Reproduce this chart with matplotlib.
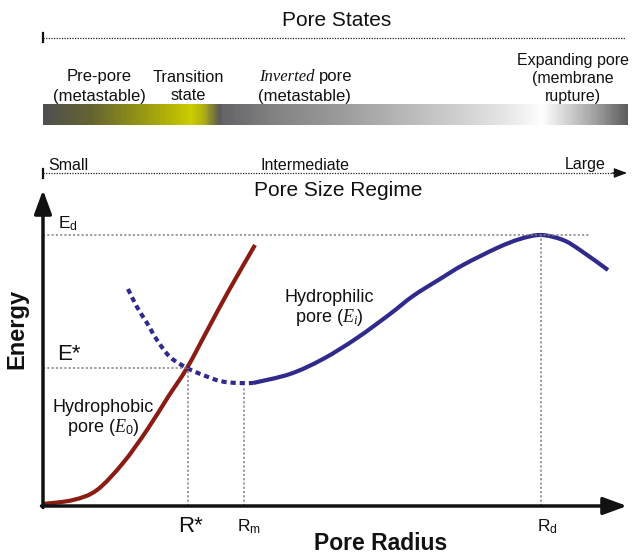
import matplotlib
matplotlib.use('Agg')
import matplotlib.pyplot as plt
import numpy as np
from matplotlib.colors import LinearSegmentedColormap
from matplotlib.path import Path
from matplotlib.patches import PathPatch

plt.rcParams['font.family'] = ['Liberation Sans', 'DejaVu Sans']
plt.rcParams['mathtext.fontset'] = 'custom'
plt.rcParams['mathtext.rm'] = 'Liberation Sans'
plt.rcParams['mathtext.it'] = 'Liberation Serif:italic'
plt.rcParams['mathtext.bf'] = 'Liberation Sans:bold'

# ---------------- data (radius / energy in arbitrary schematic units) ----------------
hydrophobic_r = [0, 30, 54, 80, 104, 125, 144, 165, 185, 212]
hydrophobic_E = [2, 6, 16, 43, 76, 109, 138, 177, 214, 261]

hydrophilic_dotted_r = [85, 94, 104, 114, 127, 144, 160, 177, 194, 210]
hydrophilic_dotted_E = [217, 199, 183, 166, 149, 138, 131, 125, 123, 123]

hydrophilic_r = [210, 247, 280, 314, 347, 370, 397, 420, 454, 477, 498, 520, 537, 565]
hydrophilic_E = [123, 132, 147, 168, 192, 210, 227, 241, 258, 267, 271, 266, 256, 236]

E_d, E_star, E_min = 271, 138, 119
R_star, R_m, R_d = 145, 201, 498
Ed_line_end = 547

state_labels = [["Pre-pore", "(metastable)"], ["Transition", "state"],
                ["Inverted pore", "(metastable)"], ["Expanding pore", "(membrane", "rupture)"]]
size_labels = ["Small", "Intermediate", "Large"]


def smooth_path(xs, ys):
    """Smooth curve through the given points (Catmull-Rom drawn as cubic Bezier segments)."""
    P = np.column_stack([xs, ys]).astype(float)
    n = len(P)
    verts = [P[0]]
    codes = [Path.MOVETO]
    for i in range(n - 1):
        p0 = P[i - 1] if i > 0 else P[i]
        p3 = P[i + 2] if i + 2 < n else P[i + 1]
        c1 = P[i] + (P[i + 1] - p0) / 6.0
        c2 = P[i + 1] - (p3 - P[i]) / 6.0
        verts += [c1, c2, P[i + 1]]
        codes += [Path.CURVE4] * 3
    return Path(verts, codes)


# ---------------- figure ----------------
W, H = 632, 556
fig = plt.figure(figsize=(W / 100, H / 100), dpi=100)
ov = fig.add_axes([0, 0, 1, 1])
ov.axis('off')

X0, Y0, X1, Y1 = 43, 506, 627, 190
ax = fig.add_axes([X0 / W, (H - Y0) / H, (X1 - X0) / W, (Y0 - Y1) / H])
ax.axis('off')
ax.set_xlim(0, X1 - X0)
ax.set_ylim(0, Y0 - Y1)

TXT = '#111111'
# ---------------- top section ----------------
ov.text(337, 21, "Pore States", fontsize=15, ha='center', va='center', color=TXT)
ov.plot([43, 625], [38, 38], color='#222', lw=0.9, ls=(0, (1, 1.1)))
ov.plot([43, 43], [33, 42], color='#111', lw=1.6)

ov.text(99, 77, state_labels[0][0], fontsize=12, ha='center', va='center', color=TXT)
ov.text(99, 96, state_labels[0][1], fontsize=12, ha='center', va='center', color=TXT)
ov.text(188, 77, state_labels[1][0], fontsize=11.8, ha='center', va='center', color=TXT)
ov.text(188, 96, state_labels[1][1], fontsize=11.8, ha='center', va='center', color=TXT)
ov.text(259, 77, "Inverted", fontsize=12, ha='left', va='center', color=TXT,
        family='Liberation Serif', style='italic')
ov.text(319, 77, "pore", fontsize=12, ha='left', va='center', color=TXT)
ov.text(304, 96, state_labels[2][1], fontsize=12, ha='center', va='center', color=TXT)
for i, s in enumerate(state_labels[3]):
    ov.text(573, [60, 79, 97][i], s, fontsize=11.5, ha='center', va='center', color=TXT)

# gradient bar
stops = [(43, (80, 80, 80)), (90, (100, 100, 50)), (140, (150, 150, 20)), (173, (185, 185, 5)),
         (190, (205, 205, 0)), (203, (175, 175, 20)), (213, (120, 120, 60)), (219.5, (90, 90, 90)),
         (221, (100, 100, 105)), (273, (130, 130, 130)), (340, (155, 155, 155)), (430, (195, 195, 195)),
         (497, (225, 225, 225)), (530, (245, 245, 245)), (543, (255, 255, 255)), (563, (220, 220, 220)),
         (597, (160, 160, 160)), (628, (95, 95, 95))]
xs = [(p - 43) / (628 - 43) for p, _ in stops]
cmap = LinearSegmentedColormap.from_list('bar', [(x, tuple(c / 255 for c in col)) for x, (p, col) in zip(xs, stops)])
ov.imshow(np.linspace(0, 1, 600)[np.newaxis, :], extent=(43, 628, 125, 104), aspect='auto', cmap=cmap,
          interpolation='bilinear')

# size regime
ov.text(48, 165, size_labels[0], fontsize=11.5, ha='left', va='center', color=TXT)
ov.text(305, 165, size_labels[1], fontsize=11.5, ha='center', va='center', color=TXT)
ov.text(585, 165, size_labels[2], fontsize=11.5, ha='center', va='center', color=TXT)
ov.plot([43, 618], [173, 173], color='#222', lw=0.9, ls=(0, (1, 1.1)))
ov.plot([43, 43], [169, 178], color='#111', lw=1.6)
ov.annotate('', xy=(627, 173), xytext=(612, 173),
            arrowprops=dict(arrowstyle='-|>,head_length=0.8,head_width=0.3', mutation_scale=10,
                            lw=0.8, color='#111', shrinkA=0, shrinkB=0))
ov.text(338, 191, "Pore Size Regime", fontsize=15, ha='center', va='center', color=TXT)

# ---------------- energy plot ----------------
grey = dict(color='#808080', lw=1.1, ls=(0, (1.4, 1.4)))
ax.plot([0, Ed_line_end], [E_d, E_d], **grey, clip_on=False)
ax.plot([0, R_star], [E_star, E_star], **grey)
ax.plot([R_star, R_star], [0, E_star], **grey)
ax.plot([R_m, R_m], [0, E_min], **grey)
ax.plot([R_d, R_d], [0, E_d], **grey)

red = '#8b1c14'
blue = '#2f2a8c'
ax.add_patch(PathPatch(smooth_path(hydrophobic_r, hydrophobic_E), fill=False, ec=red, lw=3.0,
                       capstyle='butt', joinstyle='round', clip_on=False))
ax.add_patch(PathPatch(smooth_path(hydrophilic_dotted_r, hydrophilic_dotted_E), fill=False, ec=blue, lw=3.0,
                       ls=(0, (1.25, 0.95)), capstyle='butt', clip_on=False))
ax.add_patch(PathPatch(smooth_path(hydrophilic_r, hydrophilic_E), fill=False, ec=blue, lw=3.0,
                       capstyle='butt', joinstyle='round', clip_on=False))

# axes arrows
arr = dict(arrowstyle='-|>,head_length=0.6,head_width=0.22', mutation_scale=24, lw=2.5, color='#111111',
           shrinkA=0, shrinkB=0)
ax.annotate('', xy=(0, Y0 - Y1), xytext=(0, -1.5), arrowprops=arr, annotation_clip=False)
ax.annotate('', xy=(X1 - X0, 0), xytext=(-1.5, 0), arrowprops=arr, annotation_clip=False)

# labels
ov.text(58, 224, r'E$_\mathrm{d}$', fontsize=12.5, ha='left', va='center', color=TXT)
ov.text(57, 355, 'E*', fontsize=16, ha='left', va='center', color=TXT)
ov.text(191, 527, 'R*', fontsize=16, ha='center', va='center', color=TXT)
ov.text(249, 527, r'R$_\mathrm{m}$', fontsize=12.5, ha='center', va='center', color=TXT)
ov.text(547, 527, r'R$_\mathrm{d}$', fontsize=12.5, ha='center', va='center', color=TXT)
ov.text(103, 407, 'Hydrophobic', fontsize=13, ha='center', va='center', color=TXT)
ov.text(103, 428, r'pore ($E_0$)', fontsize=13, ha='center', va='center', color=TXT)
ov.text(329, 297, 'Hydrophilic', fontsize=13, ha='center', va='center', color=TXT)
ov.text(329, 318, r'pore ($E_i$)', fontsize=13, ha='center', va='center', color=TXT)
ov.text(17, 329, 'Energy', fontsize=17, fontweight='bold', rotation=90, ha='center', va='center', color=TXT)
ov.text(381, 544, 'Pore Radius', fontsize=16.5, fontweight='bold', ha='center', va='center', color=TXT)

ov.set_xlim(0, W)
ov.set_ylim(H, 0)
fig.savefig('out.png', dpi=100)
